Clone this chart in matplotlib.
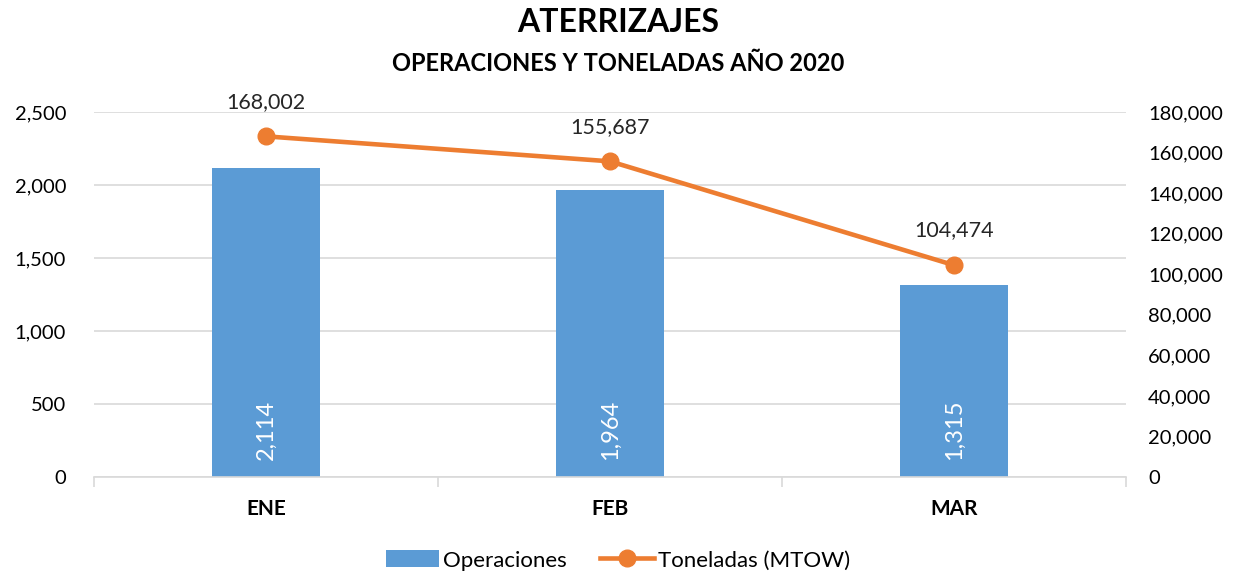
import matplotlib
matplotlib.use('Agg')
import matplotlib.pyplot as plt
from matplotlib.ticker import FuncFormatter

plt.rcParams['font.family'] = ['Lato', 'DejaVu Sans']

meses = ['ENE', 'FEB', 'MAR']
operaciones = [2114, 1964, 1315]
toneladas = [168002, 155687, 104474]

azul = '#5B9BD5'
naranja = '#ED7D31'
gris = '#D9D9D9'

fig = plt.figure(figsize=(12.36, 5.73), dpi=100)
ax = fig.add_axes([0.076, 0.1675, 0.835, 0.637])
ax2 = ax.twinx()

x = list(range(len(meses)))
ax.bar(x, operaciones, width=0.314, color=azul, zorder=2, label='Operaciones')
ax2.plot(x, toneladas, color=naranja, lw=3.3, marker='o', ms=12, zorder=3,
         label='Toneladas (MTOW)')

ax.set_xlim(-0.5, 2.5)
ax.set_ylim(0, 2500)
ax.set_yticks(range(0, 2501, 500))
ax2.set_ylim(0, 180000)
ax2.set_yticks(range(0, 180001, 20000))

fmt = FuncFormatter(lambda v, p: '{:,.0f}'.format(v))
ax.yaxis.set_major_formatter(fmt)
ax2.yaxis.set_major_formatter(fmt)

ax.grid(axis='y', color=gris, lw=1.2, zorder=0)
ax.set_axisbelow(True)
for a in (ax, ax2):
    for s in ('top', 'left', 'right', 'bottom'):
        a.spines[s].set_visible(False)
ax.spines['bottom'].set_visible(True)
ax.spines['bottom'].set_color(gris)
ax.spines['bottom'].set_linewidth(1.2)

ax.tick_params(axis='y', length=0, labelsize=14.5, pad=20)
ax2.tick_params(axis='y', length=0, labelsize=14.5, pad=16)

ax.set_xticks(x)
ax.set_xticklabels(meses, fontsize=15, fontweight='bold')
ax.tick_params(axis='x', length=0, pad=16)
ax.set_xticks([-0.5, 0.5, 1.5, 2.5], minor=True)
ax.tick_params(axis='x', which='minor', length=7, color=gris, width=1.2)

for xi, v in zip(x, operaciones):
    ax.text(xi, 322, '{:,}'.format(v), rotation=90, ha='center', va='center',
            color='white', fontsize=17)
for xi, v in zip(x, toneladas):
    ax2.annotate('{:,}'.format(v), (xi, v), xytext=(0, 25), textcoords='offset points',
                 ha='center', va='center', fontsize=15.5, color='#262626')

fig.text(0.5, 0.96, 'ATERRIZAJES', ha='center', va='center', fontsize=23,
         fontweight='bold')
fig.text(0.5, 0.89, 'OPERACIONES Y TONELADAS AÑO 2020', ha='center', va='center',
         fontsize=17, fontweight='bold')

h1, l1 = ax.get_legend_handles_labels()
h2, l2 = ax2.get_legend_handles_labels()
fig.legend(h1 + h2, l1 + l2, loc='center', bbox_to_anchor=(0.5, 0.022), ncol=2,
           frameon=False, fontsize=16, handlelength=2.4, handleheight=0.8,
           columnspacing=1.5, handletextpad=0.2)

fig.savefig('out.png', dpi=100)
